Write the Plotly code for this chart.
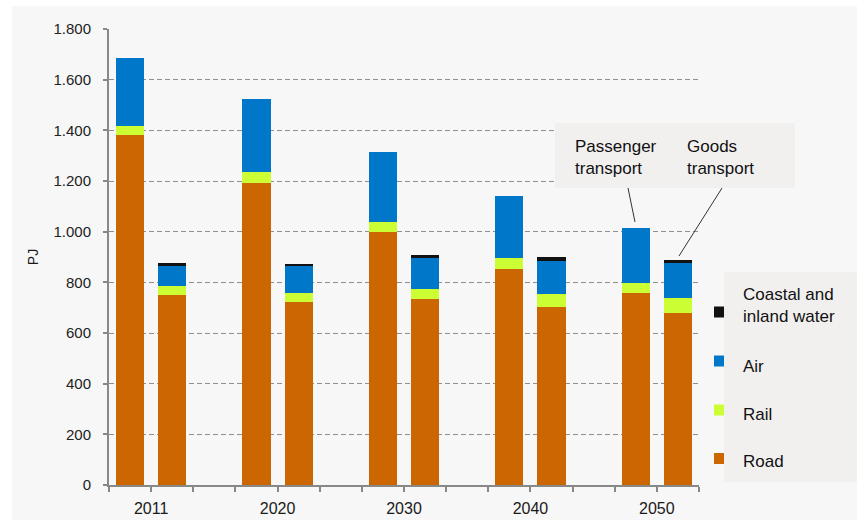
import plotly.graph_objects as go

years = ["2011", "2020", "2030", "2040", "2050"]
groups = ["Passenger transport", "Goods transport"]
series = ["Road", "Rail", "Air", "Coastal and<br>inland water"]
colors = ["#CC6600", "#CCFF33", "#0077C8", "#111111"]

# values per year: passenger, goods
road_p = [1380, 1191, 998, 853, 756]
road_g = [750, 722, 733, 703, 678]
rail_p = [38, 45, 39, 42, 40]
rail_g = [37, 37, 40, 52, 59]
air_p = [268, 288, 276, 247, 217]
air_g = [78, 106, 122, 129, 138]
water_p = [0, 0, 0, 0, 0]
water_g = [13, 6, 13, 17, 13]

y_ticks = [0, 200, 400, 600, 800, 1000, 1200, 1400, 1600, 1800]

# x positions: each year group takes 3 slots (passenger, goods, gap)
xp = [i * 3 + 0.5 for i in range(len(years))]
xg = [i * 3 + 1.5 for i in range(len(years))]
xs = []
for a, b in zip(xp, xg):
    xs += [a, b]

def inter(p, g):
    out = []
    for a, b in zip(p, g):
        out += [a, b]
    return out

data = [inter(road_p, road_g), inter(rail_p, rail_g), inter(air_p, air_g), inter(water_p, water_g)]

fig = go.Figure()
for name, vals, col in zip(series, data, colors):
    fig.add_trace(go.Bar(x=xs, y=vals, name=name, marker=dict(color=col, line=dict(width=0)),
                         width=0.67, showlegend=False))

L, R, T, B = 109, 158, 29, 35
W, H = 857, 520
pw, ph = W - L - R, H - T - B

def px(x):
    return (x - L) / pw

def py(y):
    return (H - B - y) / ph

fig.update_layout(
    barmode="stack",
    width=W, height=H,
    margin=dict(l=L, r=R, t=T, b=B, autoexpand=False),
    paper_bgcolor="#F7F7F7",
    plot_bgcolor="#F7F7F7",
    separators=",.",
    font=dict(family="Liberation Sans, Arial, sans-serif", color="#222222"),
    xaxis=dict(range=[0, 14], tickmode="array", tickvals=list(range(15)), ticktext=[""] * 15,
               ticks="outside", ticklen=5, tickcolor="#888888", tickwidth=2, automargin=False,
               showline=True, linecolor="#888888", linewidth=2, showgrid=False, zeroline=False),
    xaxis2=dict(range=[0, 14], overlaying="x", tickmode="array",
                tickvals=[i * 3 + 1 for i in range(len(years))], ticktext=years,
                side="bottom", showgrid=False, showline=False, zeroline=False, ticks="",
                ticklabelstandoff=12, automargin=False,
                tickfont=dict(size=16, color="#1a1a1a"), anchor="y"),
    yaxis=dict(range=[0, 1800], tickmode="array", tickvals=y_ticks, separatethousands=True,
               tickformat=",d", ticks="outside", ticklen=4, tickcolor="#888888", tickwidth=2,
               ticklabelstandoff=9, automargin=False,
               showline=True, linecolor="#888888", linewidth=2,
               showgrid=True, gridcolor="#8f8f8f", griddash="5px,3px", gridwidth=1,
               zeroline=False, tickfont=dict(size=15, color="#222222"),
               title=dict(text="PJ", font=dict(size=14, color="#1a1a1a"), standoff=12)),
)
# dummy trace to activate xaxis2 for year labels
fig.add_trace(go.Scatter(x=[0], y=[0], xaxis="x2", mode="markers", marker=dict(opacity=0),
                         showlegend=False, hoverinfo="skip"))

shapes = []
# white strips at top/left
shapes.append(dict(type="rect", xref="paper", yref="paper", x0=px(0), x1=px(W), y0=py(0), y1=py(6),
                   fillcolor="#FFFFFF", line=dict(width=0), layer="below"))
shapes.append(dict(type="rect", xref="paper", yref="paper", x0=px(0), x1=px(12), y0=py(H), y1=py(0),
                   fillcolor="#FFFFFF", line=dict(width=0), layer="below"))
# annotation box
shapes.append(dict(type="rect", xref="paper", yref="paper", x0=px(555), x1=px(795), y0=py(188), y1=py(123),
                   fillcolor="#F1F0EF", line=dict(width=0)))
# leader lines
shapes.append(dict(type="line", xref="paper", yref="paper", x0=px(628), y0=py(188), x1=px(635), y1=py(222),
                   line=dict(color="#333333", width=1)))
shapes.append(dict(type="line", xref="paper", yref="paper", x0=px(722), y0=py(188), x1=px(679), y1=py(256),
                   line=dict(color="#333333", width=1)))
# legend box
shapes.append(dict(type="rect", xref="paper", yref="paper", x0=px(724), x1=px(857), y0=py(482), y1=py(272),
                   fillcolor="#F1F0EF", line=dict(width=0)))
# legend markers (top to bottom: water, air, rail, road)
leg_y = [312, 361, 410, 458.5]
leg_text_y = [305, 366, 414, 461]
order = [3, 2, 1, 0]
annotations = []
for k, idx in enumerate(order):
    shapes.append(dict(type="rect", xref="paper", yref="paper", x0=px(714), x1=px(724),
                       y0=py(leg_y[k] + 5.5), y1=py(leg_y[k] - 5.5),
                       fillcolor=colors[idx], line=dict(width=0)))
    annotations.append(dict(xref="paper", yref="paper", x=px(741), y=py(leg_text_y[k]),
                            text=series[idx], showarrow=False, xanchor="left", yanchor="middle",
                            align="left", font=dict(size=17, color="#111111")))
annotations.append(dict(xref="paper", yref="paper", x=px(573), y=py(157), text=groups[0].replace(" ", "<br>"),
                        showarrow=False, xanchor="left", yanchor="middle", align="left",
                        font=dict(size=17, color="#111111")))
annotations.append(dict(xref="paper", yref="paper", x=px(685), y=py(157), text=groups[1].replace(" ", "<br>"),
                        showarrow=False, xanchor="left", yanchor="middle", align="left",
                        font=dict(size=17, color="#111111")))

fig.update_layout(shapes=shapes, annotations=annotations)
fig.write_html("out.html")
